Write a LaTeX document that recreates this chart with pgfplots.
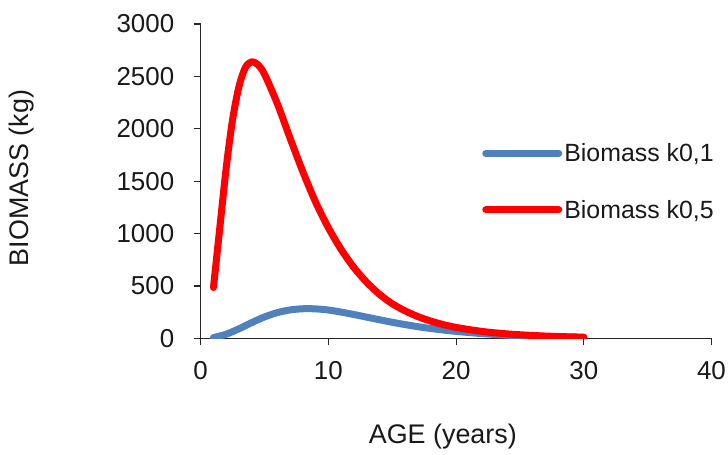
\documentclass[border=0pt]{standalone}
\usepackage{fontspec}
\setmainfont{Liberation Sans}
\usepackage{pgfplots}
\pgfplotsset{compat=1.18}
\definecolor{bioblue}{HTML}{4F81BD}
\definecolor{biored}{HTML}{FF0000}
\begin{document}
\begin{tikzpicture}
\begin{axis}[
    at={(0,0)}, anchor=south west,
    scale only axis,
    width=510.8bp, height=314.3bp,
    xmin=0, xmax=40, ymin=0, ymax=3000,
    xtick={0,10,20,30,40},
    ytick={0,500,1000,1500,2000,2500,3000},
    axis x line*=bottom, axis y line*=left,
    axis line style={line width=1.2bp, black!85},
    tick align=outside,
    major tick length=7bp,
    tick style={line width=1.2bp, black!85},
    /pgf/number format/assume math mode=true,
    /pgf/number format/1000 sep={},
    tick label style={font=\fontsize{26}{30}\selectfont, text=black!90},
    yticklabel style={xshift=-16bp},
    xticklabel style={yshift=-13bp},
    label style={font=\fontsize{27}{32}\selectfont, text=black!90},
    xlabel={AGE (years)},
    ylabel={BIOMASS (kg)},
    xlabel style={at={(axis description cs:0.474,-0.314)}, anchor=center},
    ylabel style={at={(axis description cs:-0.3498,0.51)}, anchor=center},
    legend style={draw=none, fill=none,
        at={(axis cs:21.8,1898)}, anchor=north west,
        font=\fontsize{25}{30}\selectfont,
        row sep=33bp,
        nodes={text=black!90}},
    legend cell align=left,
    legend image code/.code={\draw[#1, line width=7bp, line cap=round] (0bp,0bp) -- (73bp,0bp);},
]
\addplot[bioblue, line width=7bp, line cap=round, line join=round, smooth] coordinates {
    (1,7) (2,39) (3,91) (4,150) (5,204) (6,245) (7,271) (8,282) (9,281)
    (10,270) (11,250) (12,227) (13,202) (14,177) (15,153) (16,131)
    (17,111) (18,94) (19,79) (20,66) (22,45) (24,30) (26,20) (28,13) (30,9)
};
\addlegendentry{Biomass k0,1}
\addplot[biored, line width=7bp, line cap=round, line join=round, smooth] coordinates {
    (1,485) (1.5,1060) (2,1630) (2.5,2090) (3,2405) (3.5,2585) (4,2640)
    (4.5,2610) (5,2520) (6,2240) (7,1910) (8,1590) (9,1300) (10,1055)
    (11,848) (12,675) (13,535) (14,420) (15,330) (16,262) (17,208)
    (18,165) (19,131) (20,104) (22,66) (24,42) (26,27) (28,17) (30,11)
};
\addlegendentry{Biomass k0,5}
\end{axis}
\pgfresetboundingbox
\path[use as bounding box] (-200.7bp,-116.7bp) rectangle (527.3bp,338.3bp);
\end{tikzpicture}
\end{document}
